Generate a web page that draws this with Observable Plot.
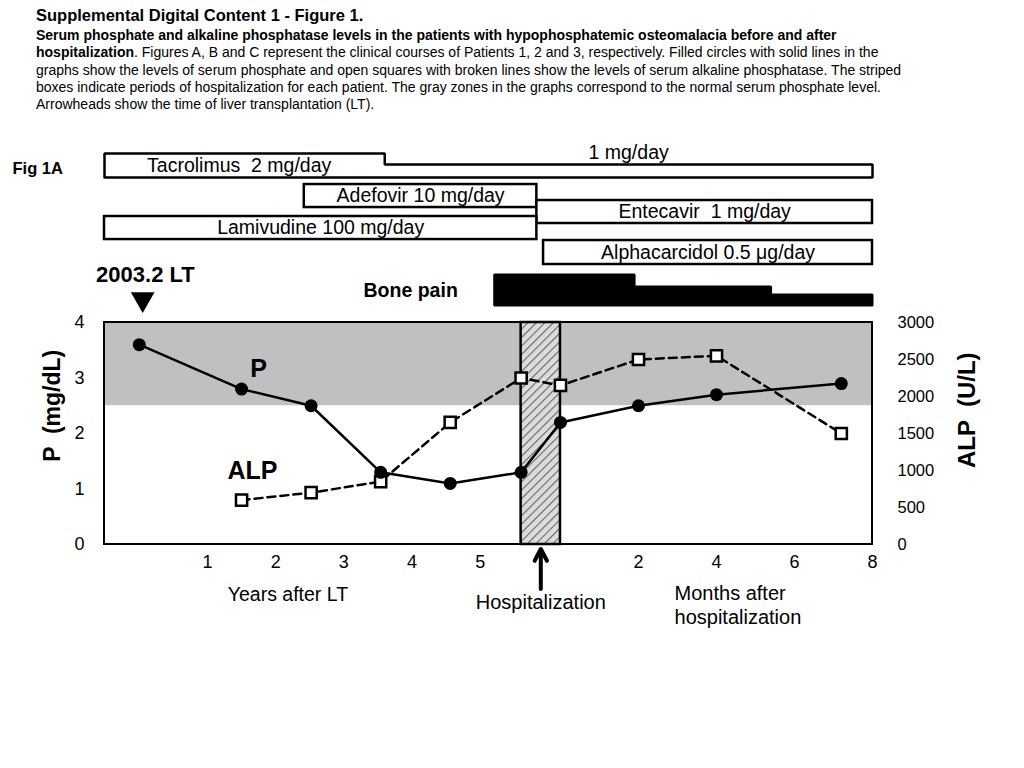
<!DOCTYPE html>
<html>
<head>
<meta charset="utf-8">
<script src="https://cdn.jsdelivr.net/npm/d3@7"></script>
<script src="https://cdn.jsdelivr.net/npm/@observablehq/plot@0.6"></script>
<style>
  html, body { margin: 0; padding: 0; background: #fff; width: 1024px; height: 768px; overflow: hidden; }
  body { font-family: "Liberation Sans", Arial, Helvetica, sans-serif; color: #000; position: relative; }
  #title { position: absolute; left: 36px; top: 4px; width: 985px; font-size: 14px; line-height: 17.3px; }
  #title .h { font-size: 16.5px; font-weight: bold; line-height: 23px; }
  #chart { position: absolute; left: 0; top: 120px; }
</style>
</head>
<body>
<div id="title">
  <div class="h">Supplemental Digital Content 1 - Figure 1.</div>
  <div><b>Serum phosphate and alkaline phosphatase levels in the patients with hypophosphatemic osteomalacia before and after<br>hospitalization</b>. Figures A, B and C represent the clinical courses of Patients 1, 2 and 3, respectively. Filled circles with solid lines in the<br>graphs show the levels of serum phosphate and open squares with broken lines show the levels of serum alkaline phosphatase. The striped<br>boxes indicate periods of hospitalization for each patient. The gray zones in the graphs correspond to the normal serum phosphate level.<br>Arrowheads show the time of liver transplantation (LT).</div>
</div>
<div id="chart"></div>
<script>
// ---------- data ----------
// serum phosphate (mg/dL): before hospitalization (years after LT) and after (months after hospitalization)
const pYears      = [0, 1.5, 2.52, 3.54, 4.56, 5.6];
const pYearVals   = [3.6, 2.8, 2.5, 1.3, 1.1, 1.3];
const pMonths     = [0, 2, 4, 7.2];
const pMonthVals  = [2.2, 2.5, 2.7, 2.9];
// serum ALP (U/L)
const alpYears     = [1.5, 2.52, 3.54, 4.56, 5.6];
const alpYearVals  = [600, 700, 850, 1650, 2250];
const alpMonths    = [0, 2, 4, 7.2];
const alpMonthVals = [2150, 2500, 2550, 1500];

const normalP = [2.5, 4];            // gray zone (normal serum phosphate, clipped to axis)
const hospStartYear = 5.6;           // hospitalization began (years after LT)

const yearTicks  = [1, 2, 3, 4, 5];
const monthTicks = [2, 4, 6, 8];
const pTicks     = [0, 1, 2, 3, 4];
const alpTicks   = [0, 500, 1000, 1500, 2000, 2500, 3000];

// treatments: start / end given as [unit, value]; unit: y = years after LT, h = fraction of hospital stay, m = months after hospitalization
const drugNames = ["Tacrolimus  2 mg/day", "Adefovir 10 mg/day", "Entecavir  1 mg/day", "Lamivudine 100 mg/day", "Alphacarcidol 0.5 μg/day"];
const drugStart = [["y", -0.51], ["y", 2.42], ["h", 0.4], ["y", -0.51], ["h", 0.57]];
const drugEnd   = [["m", 8], ["h", 0.4], ["m", 8], ["h", 0.4], ["m", 8]];
const tacroStep = ["y", 3.6];        // tacrolimus reduced to 1 mg/day
const tacroLater = "1 mg/day";

// bone pain episodes (intensity levels)
const painStart  = [["y", 5.22], ["m", 1.9], ["m", 5.4]];
const painEnd    = [["m", 1.9], ["m", 5.4], ["m", 8]];
const painLevel  = [3, 2, 1];

const ltLabel = "2003.2 LT";

// ---------- layout (broken time axis) ----------
const HOSP_W = 0.577, MONTH_W = 0.572, ALP_PER_P = 750;
const T = ([u, v]) => u === "y" ? v : u === "h" ? hospStartYear + v * HOSP_W : hospStartYear + HOSP_W + v * MONTH_W;
const xL = -0.51, xR = T(["m", 8]);

// vertical lanes for the annotation rows (in P-axis units)
const lanes = [[6.613, 7.045], [6.072, 6.486], [5.784, 6.198], [5.495, 5.91], [5.045, 5.477]];
const tacroStepTop = 6.847;
const painBottom = 4.306, painTops = {3: 4.847, 2: 4.63, 1: 4.486};

const P = [
  ...pYears.map((x, i) => ({x: T(["y", x]), v: pYearVals[i]})),
  ...pMonths.map((x, i) => ({x: T(["m", x]), v: pMonthVals[i]}))
];
const ALP = [
  ...alpYears.map((x, i) => ({x: T(["y", x]), v: alpYearVals[i] / ALP_PER_P})),
  ...alpMonths.map((x, i) => ({x: T(["m", x]), v: alpMonthVals[i] / ALP_PER_P}))
];

const drugs = drugNames.map((name, i) => ({name, x1: T(drugStart[i]), x2: T(drugEnd[i]), y1: lanes[i][0], y2: lanes[i][1]}));
const boxDrugs = drugs.slice(1);
const tac = drugs[0];
const tacStepX = T(tacroStep);
const tacPath = [
  {x: tac.x1, y: tac.y1}, {x: tac.x1, y: tac.y2}, {x: tacStepX, y: tac.y2}, {x: tacStepX, y: tacroStepTop},
  {x: tac.x2, y: tacroStepTop}, {x: tac.x2, y: tac.y1}, {x: tac.x1, y: tac.y1}
];
const pain = painStart.map((s, i) => ({x: T(s), top: painTops[painLevel[i]]}));
pain.push({x: T(painEnd[painEnd.length - 1]), top: painTops[painLevel[painLevel.length - 1]]});

const hospX1 = T(["h", 0]), hospX2 = T(["h", 1]), hospMid = T(["h", 0.5]);

const font = '"Liberation Sans", Arial, Helvetica, sans-serif';

const plot = Plot.plot({
  width: 1024, height: 530,
  marginLeft: 104, marginRight: 152, marginTop: 0, marginBottom: 0,
  x: {domain: [xL, xR], axis: null},
  y: {domain: [-1.91, 7.64]},
  style: {fontFamily: font, fontSize: "16px", background: "transparent", color: "#000"},
  marks: [
    // normal range
    Plot.rect([normalP], {x1: xL, x2: xR, y1: d => d[0], y2: d => d[1], fill: "#c0c0c0"}),
    // hospitalization
    Plot.rect([0], {x1: hospX1, x2: hospX2, y1: 0, y2: 4, fill: "url(#hatch)", stroke: "#000", strokeWidth: 2.5}),
    // frame
    Plot.rect([0], {x1: xL, x2: xR, y1: 0, y2: 4, fill: "none", stroke: "#000", strokeWidth: 2}),
    // axes
    Plot.axisY(pTicks, {anchor: "left", tickSize: 0, tickPadding: 20, fontSize: 18, tickFormat: d => String(d), label: null}),
    Plot.axisY(alpTicks.map(v => v / ALP_PER_P), {anchor: "right", tickSize: 0, tickPadding: 25, fontSize: 16.5, tickFormat: d => String(Math.round(d * ALP_PER_P)), label: null}),
    Plot.text(yearTicks, {x: d => T(["y", d]), y: 0, text: d => String(d), dy: 18, fontSize: 18}),
    Plot.text(monthTicks, {x: d => T(["m", d]), y: 0, text: d => String(d), dy: 18, fontSize: 18}),
    // series
    Plot.line(ALP, {x: "x", y: "v", stroke: "#000", strokeWidth: 2.5, strokeDasharray: "8,5"}),
    Plot.line(P, {x: "x", y: "v", stroke: "#000", strokeWidth: 2.5}),
    Plot.dot(ALP, {x: "x", y: "v", symbol: "square", r: 6.3, fill: "#fff", stroke: "#000", strokeWidth: 2.5}),
    Plot.dot(P, {x: "x", y: "v", r: 6.5, fill: "#000", stroke: "none"}),
    // series labels
    Plot.text(["P"], {x: 1.75, y: 3.17, text: d => d, fontSize: 25, fontWeight: "bold"}),
    Plot.text(["ALP"], {x: 1.66, y: 1.33, text: d => d, fontSize: 25, fontWeight: "bold"}),
    // axis titles
    Plot.text(["P  (mg/dL)"], {x: -1.27, y: 2.5, text: d => d, rotate: -90, fontSize: 23, fontWeight: "bold"}),
    Plot.text(["ALP  (U/L)"], {x: 12.15, y: 2.42, text: d => d, rotate: -90, fontSize: 24, fontWeight: "bold"}),
    // bottom labels
    Plot.text(["Years after LT"], {x: 2.18, y: -0.9, text: d => d, fontSize: 19.5}),
    Plot.text(["Hospitalization"], {x: hospMid, y: -1.045, text: d => d, fontSize: 20}),
    Plot.text(["Months after\nhospitalization"], {x: 7.85, y: -0.7, text: d => d, fontSize: 20, textAnchor: "start", lineAnchor: "top", lineHeight: 1.2}),
    Plot.arrow([0], {x1: hospMid, x2: hospMid, y1: -0.8, y2: -0.08, stroke: "#000", strokeWidth: 4, headLength: 14, headAngle: 55}),
    // treatments
    Plot.line(tacPath, {x: "x", y: "y", stroke: "#000", strokeWidth: 2.5, strokeLinejoin: "miter"}),
    Plot.text([tac], {x: d => (d.x1 + tacStepX) / 2 - 0.08, y: d => (d.y1 + d.y2) / 2, text: "name", fontSize: 19.5}),
    Plot.text([tacroLater], {x: (tacStepX + tac.x2) / 2, y: 7.06, text: d => d, fontSize: 19.5}),
    Plot.rect(boxDrugs, {x1: "x1", x2: "x2", y1: "y1", y2: "y2", fill: "#fff", stroke: "#000", strokeWidth: 2.5}),
    Plot.text(boxDrugs, {x: d => (d.x1 + d.x2) / 2, y: d => (d.y1 + d.y2) / 2, text: "name", fontSize: 19.5}),
    // bone pain
    Plot.areaY(pain, {x: "x", y1: painBottom, y2: "top", curve: "step-after", fill: "#000", stroke: "#000", strokeWidth: 3, strokeLinejoin: "round"}),
    Plot.text(["Bone pain"], {x: 3.98, y: 4.58, text: d => d, fontSize: 19.5, fontWeight: "bold"}),
    // liver transplantation
    Plot.dot([0], {x: T(["y", 0.05]), y: 4.42, symbol: "triangle", rotate: 180, r: 8.8, fill: "#000"}),
    Plot.text([ltLabel], {x: T(["y", 0.09]), y: 4.85, text: d => d, fontSize: 22, fontWeight: "bold"}),
    Plot.text(["Fig 1A"], {x: -1.49, y: 6.77, text: d => d, fontSize: 16.5, fontWeight: "bold"})
  ]
});

d3.select(plot).insert("defs", ":first-child").html(
  '<pattern id="hatch" patternUnits="userSpaceOnUse" width="6" height="6" patternTransform="rotate(45)">' +
  '<rect width="6" height="6" fill="#dcdcdc"/><line x1="0" y1="0" x2="0" y2="6" stroke="#666" stroke-width="2.2"/></pattern>'
);
document.getElementById("chart").appendChild(plot);
</script>
</body>
</html>
